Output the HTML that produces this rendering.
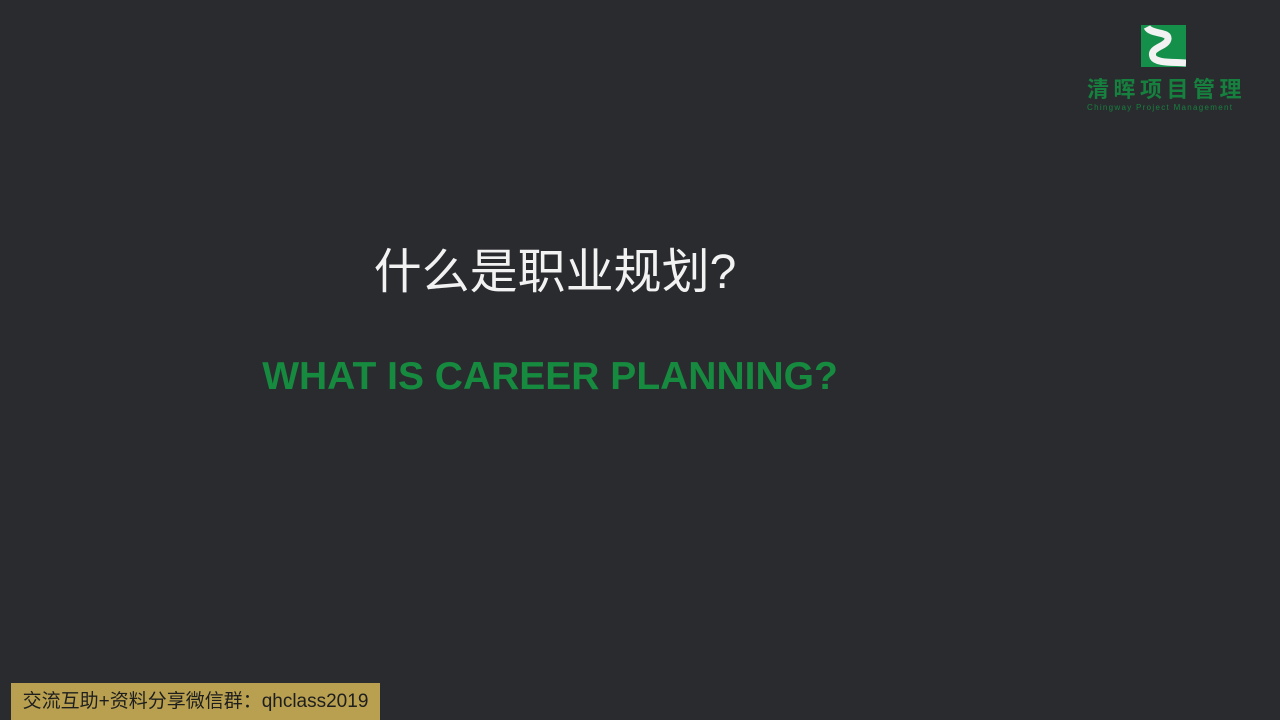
<!DOCTYPE html>
<html><head><meta charset="utf-8"><style>
body{margin:0;width:1280px;height:720px;background:#2a2b2f;position:relative;overflow:hidden;font-family:"Liberation Sans","Noto Sans CJK SC",sans-serif}
.abs{position:absolute}
</style></head><body>
<div class="abs" style="left:1080px;top:20px;width:170px;height:100px">
 <svg class="abs" style="left:61px;top:5px" width="45" height="42" viewBox="0 0 45 42">
  <rect width="45" height="42" fill="#14904a"/>
  <path d="M6 2 C10 10 28 6 27 14 C26 22 8 22 12 32 C15 38 30 37 45 38" stroke="#f2f2f2" stroke-width="7" fill="none"/>
 </svg>
 <div class="abs" style="left:7px;top:58px;width:160px;font-size:22px;font-weight:bold;color:#16803e;letter-spacing:4.5px;white-space:nowrap;line-height:24px">清晖项目管理</div>
 <div class="abs" style="left:7px;top:83px;width:156px;font-size:8px;color:#16803e;white-space:nowrap;letter-spacing:1.3px">Chingway Project Management</div>
</div>
<div class="abs" style="left:0;width:1110px;top:243px;text-align:center;font-size:48px;color:#f2f2f2;line-height:60px">什么是职业规划?</div>
<div class="abs" style="left:0;width:1100px;top:352px;text-align:center;font-size:39px;font-weight:bold;color:#168a3f;line-height:50px">WHAT IS CAREER PLANNING?</div>
<div class="abs" style="left:11px;top:683px;width:369px;height:37px;background:#b8a050;color:#1e1e1e;font-size:19px;line-height:37px;text-align:center;white-space:nowrap">交流互助+资料分享微信群：qhclass2019</div>
</body></html>
